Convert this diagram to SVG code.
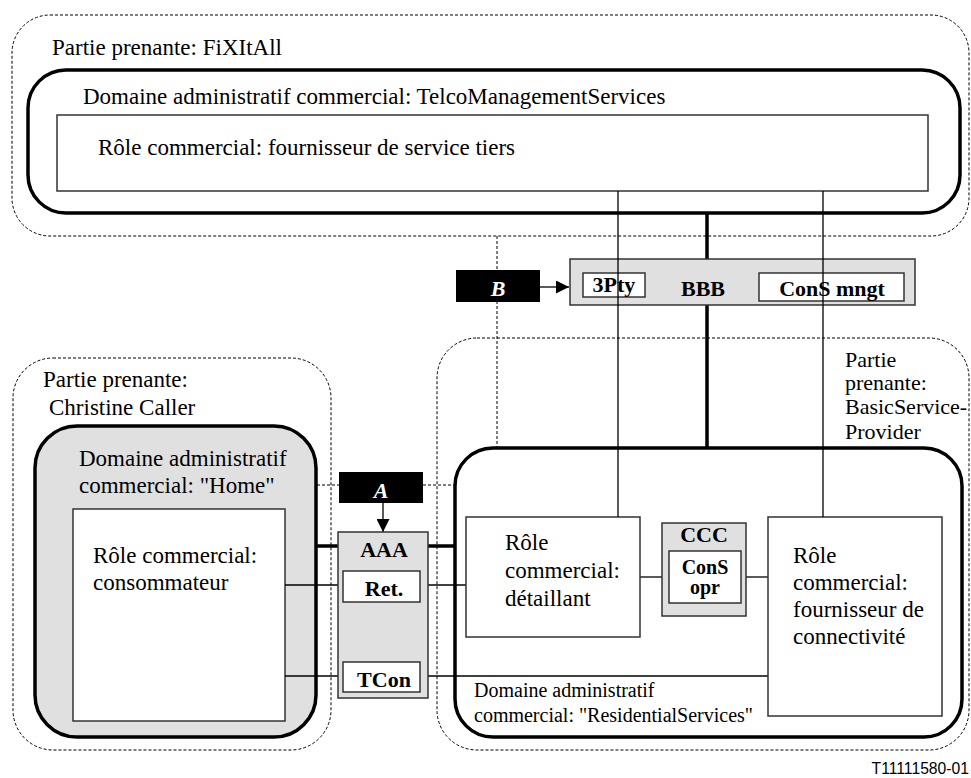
<svg xmlns="http://www.w3.org/2000/svg" width="971" height="778" viewBox="0 0 971 778">
<style>
.t{font-family:"Liberation Serif","Times New Roman",serif;font-size:23px;fill:#000}
.tr{font-family:"Liberation Serif","Times New Roman",serif;font-size:22px;fill:#000}
.ts{font-family:"Liberation Serif","Times New Roman",serif;font-size:20px;fill:#000}
.b{font-family:"Liberation Serif","Times New Roman",serif;font-size:22px;font-weight:bold;fill:#000;text-anchor:middle}
.bs{font-family:"Liberation Serif","Times New Roman",serif;font-size:20px;font-weight:bold;fill:#000;text-anchor:middle}
.w{font-family:"Liberation Serif","Times New Roman",serif;font-size:22px;font-weight:bold;font-style:italic;fill:#fff;text-anchor:middle}
.dash{fill:none;stroke:#000;stroke-width:1;stroke-dasharray:3 2}
.thick{stroke:#000;stroke-width:3.5}
.role{fill:#fff;stroke:#333;stroke-width:1.5}
.grey{fill:#e0e0e0;stroke:#333;stroke-width:1.5}
.ln{stroke:#000;stroke-width:1.3;fill:none}
.tk{stroke:#000;stroke-width:3.5;fill:none}
.dl{stroke:#000;stroke-width:1;stroke-dasharray:3 2;fill:none}
.blk{fill:#000}
</style>
<defs>
<marker id="ah" markerUnits="userSpaceOnUse" markerWidth="13" markerHeight="13" refX="13" refY="6.5" orient="auto">
<path d="M0,0 L13,6.5 L0,13 z" fill="#000"/>
</marker>
</defs>
<rect width="971" height="778" fill="#fff"/>

<g id="stakeholder-fixitall">
<rect class="dash" x="12" y="15" width="957" height="221" rx="38"/>
<text class="t" x="52" y="55">Partie prenante: FiXItAll</text>
</g>
<g id="stakeholder-christine">
<rect class="dash" x="13" y="358" width="318" height="392" rx="40"/>
<text class="t" x="43" y="387">Partie prenante:</text>
<text class="t" x="49" y="415">Christine Caller</text>
</g>
<g id="stakeholder-basic">
<rect class="dash" x="437" y="338" width="532" height="412" rx="40"/>
<text class="tr" x="845" y="367">Partie</text>
<text class="tr" x="845" y="390">prenante:</text>
<text class="tr" x="845" y="414">BasicService-</text>
<text class="tr" x="845" y="439">Provider</text>
</g>

<g id="domain-telco">
<rect class="thick" fill="#fff" x="28" y="70" width="932" height="143" rx="38"/>
<text class="t" x="83" y="104">Domaine administratif commercial: TelcoManagementServices</text>
</g>
<g id="role-tiers">
<rect class="role" x="57" y="115" width="871" height="76"/>
<text class="t" x="98" y="155">Rôle commercial: fournisseur de service tiers</text>
</g>

<g id="domain-home">
<rect class="thick" fill="#e0e0e0" x="35" y="426" width="281" height="311" rx="42"/>
<text class="t" x="79" y="466">Domaine administratif</text>
<text class="t" x="79" y="493">commercial: "Home"</text>
</g>
<g id="role-consommateur">
<rect class="role" x="73" y="509" width="212" height="212"/>
<text class="t" x="93" y="563">Rôle commercial:</text>
<text class="t" x="93" y="590">consommateur</text>
</g>

<g id="domain-residential">
<rect class="thick" fill="#fff" x="455" y="448" width="507" height="289" rx="38"/>
<text class="ts" x="474" y="697">Domaine administratif</text>
<text class="ts" x="474" y="722">commercial: "ResidentialServices"</text>
</g>

<g id="connectors">
<line class="dl" x1="497" y1="236" x2="497" y2="447"/>
<line class="dl" x1="317" y1="485" x2="339" y2="485"/>
<line class="dl" x1="423" y1="485" x2="454" y2="485"/>
<line class="tk" x1="707" y1="213" x2="707" y2="259"/>
<line class="tk" x1="707" y1="305" x2="707" y2="448"/>
<line class="tk" x1="316" y1="546" x2="338" y2="546"/>
<line class="tk" x1="428" y1="546" x2="455" y2="546"/>
<line class="ln" x1="285" y1="585" x2="343" y2="585"/>
<line class="ln" x1="420" y1="585" x2="466" y2="585"/>
<line class="ln" x1="285" y1="676" x2="343" y2="676"/>
<line class="ln" x1="420" y1="676" x2="768" y2="676"/>
<line class="ln" x1="640" y1="577" x2="662" y2="577"/>
<line class="ln" x1="746" y1="577" x2="768" y2="577"/>
<line class="ln" x1="540" y1="287" x2="569" y2="287" marker-end="url(#ah)"/>
<line class="ln" x1="383" y1="503" x2="383" y2="532" marker-end="url(#ah)"/>
</g>

<g id="role-detaillant">
<rect class="role" x="466" y="517" width="174" height="120"/>
<text class="t" x="505" y="550">Rôle</text>
<text class="t" x="505" y="578">commercial:</text>
<text class="t" x="505" y="606">détaillant</text>
</g>
<g id="role-connectivite">
<rect class="role" x="768" y="517" width="174" height="199"/>
<text class="t" x="793" y="563">Rôle</text>
<text class="t" x="793" y="590">commercial:</text>
<text class="t" x="793" y="617">fournisseur de</text>
<text class="t" x="793" y="644">connectivité</text>
</g>

<g id="ref-bbb">
<rect class="grey" x="570" y="259" width="345" height="46"/>
<rect class="role" x="583" y="273" width="62" height="24"/>
<text class="b" x="614" y="292">3Pty</text>
<text class="b" x="703" y="296">BBB</text>
<rect class="role" x="759" y="273" width="145" height="28"/>
<text class="b" x="832" y="296">ConS mngt</text>
</g>
<g id="ref-ccc">
<rect class="grey" x="662" y="523" width="84" height="93"/>
<text class="b" x="704" y="542">CCC</text>
<rect class="role" x="669" y="551" width="72" height="52"/>
<text class="bs" x="705" y="574">ConS</text>
<text class="bs" x="705" y="594">opr</text>
</g>
<g id="ref-aaa">
<rect class="grey" x="338" y="532" width="90" height="166"/>
<text class="b" x="384" y="557">AAA</text>
<rect class="role" x="343" y="571" width="77" height="31"/>
<text class="b" x="384" y="596">Ret.</text>
<rect class="role" x="343" y="662" width="77" height="30"/>
<text class="b" x="384" y="687">TCon</text>
</g>

<g id="tier-lines">
<line class="ln" x1="618" y1="191" x2="618" y2="517"/>
<line class="ln" x1="823" y1="191" x2="823" y2="517"/>
</g>

<g id="reference-point-b">
<rect class="blk" x="456" y="270" width="84" height="32"/>
<text class="w" x="498" y="296">B</text>
</g>
<g id="reference-point-a">
<rect class="blk" x="339" y="472" width="84" height="31"/>
<text class="w" x="381" y="498">A</text>
</g>

<text x="969" y="774" text-anchor="end" style="font-family:'Liberation Sans',Arial,sans-serif;font-size:15.7px;fill:#000">T11111580-01</text>
</svg>
